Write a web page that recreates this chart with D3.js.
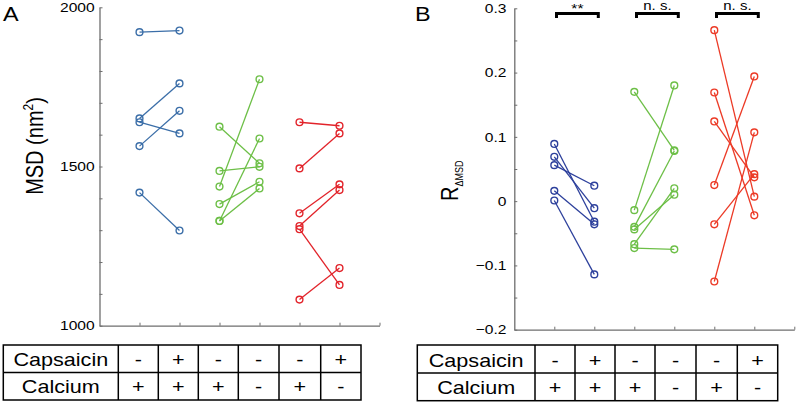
<!DOCTYPE html>
<html><head><meta charset="utf-8">
<script src="https://cdn.jsdelivr.net/npm/d3@7"></script>
<style>body{margin:0;background:#fff}svg{display:block}</style>
</head><body>
<svg id="c" width="797" height="402"></svg>
<script>
// ---------- data ----------
const categories = [1, 2, 3, 4, 5, 6];
const capsaicinRow = ["-", "+", "-", "-", "-", "+"];
const calciumRow = ["+", "+", "+", "-", "+", "-"];
const rowLabels = ["Capsaicin", "Calcium"];

// Panel A: MSD (nm^2), paired before/after
const msdBlueBefore  = [1922, 1651, 1639, 1564, 1418];
const msdBlueAfter   = [1927, 1761, 1604, 1675, 1299];
const msdGreenBefore = [1625, 1486, 1437, 1382, 1329, 1329];
const msdGreenAfter  = [1510, 1499, 1774, 1452, 1431, 1588];
const msdRedBefore   = [1639, 1494, 1353, 1313, 1303, 1082];
const msdRedAfter    = [1628, 1604, 1444, 1426, 1128, 1181];
const msdTicks = [1000, 1100, 1200, 1300, 1400, 1500, 1600, 1700, 1800, 1900, 2000];
const msdTickLabels = [1000, 1500, 2000];

// Panel B: R_ΔMSD
const rBlueBefore  = [0.089, 0.069, 0.056, 0.016, 0.001];
const rBlueAfter   = [-0.032, -0.011, 0.024, -0.036, -0.114];
const rGreenBefore = [0.170, -0.014, -0.040, -0.044, -0.067, -0.073];
const rGreenAfter  = [0.079, 0.180, 0.078, 0.010, 0.020, -0.075];
const rRedBefore   = [0.266, 0.169, 0.124, 0.025, -0.036, -0.125];
const rRedAfter    = [0.007, -0.022, 0.037, 0.194, 0.042, 0.107];
const rTicks = [-0.2, -0.15, -0.1, -0.05, 0, 0.05, 0.1, 0.15, 0.2, 0.25, 0.3];
const rTickLabels = ["-0.2", "-0.1", "0", "0.1", "0.2", "0.3"];
const sigLabels = ["**", "n. s.", "n. s."];

// ---------- drawing ----------
const svg = d3.select("#c");
const FONT = "'Liberation Sans', Arial, Helvetica, sans-serif";
const SX = 1.2; // horizontal stretch of the original picture
const AXC = "#6e6e6e";

function stext(g, x, y, str, size, anchor, extra) {
  const t = g.append("text")
    .attr("transform", `translate(${x},${y}) scale(${SX},1)` + (extra || ""))
    .attr("font-family", FONT).attr("font-size", size)
    .attr("text-anchor", anchor || "middle").attr("fill", "#000");
  if (str !== null) t.text(str);
  return t;
}

function drawPairs(g, x, y, before, after, xi, color) {
  const pairs = before.map((b, i) => ({ b, a: after[i] }));
  g.selectAll(null).data(pairs).join("line")
    .attr("x1", x(categories[xi])).attr("x2", x(categories[xi + 1]))
    .attr("y1", d => y(d.b)).attr("y2", d => y(d.a))
    .attr("stroke", color).attr("stroke-width", 1.3);
  g.selectAll(null).data(before).join("circle")
    .attr("cx", x(categories[xi])).attr("cy", d => y(d))
    .attr("r", 3.4).attr("fill", "none").attr("stroke", color).attr("stroke-width", 1.4);
  g.selectAll(null).data(after).join("circle")
    .attr("cx", x(categories[xi + 1])).attr("cy", d => y(d))
    .attr("r", 3.4).attr("fill", "none").attr("stroke", color).attr("stroke-width", 1.4);
}

function styleAxis(g) {
  g.select(".domain").attr("stroke", AXC).attr("stroke-width", 1.3);
  g.selectAll(".tick line").attr("stroke", AXC).attr("stroke-width", 1);
}

function drawTable(x0, cols, y0, y1, y2) {
  const g = svg.append("g");
  const xs = [x0].concat(cols);
  const right = xs[xs.length - 1];
  g.append("rect").attr("x", x0).attr("y", y0).attr("width", right - x0).attr("height", y2 - y0)
    .attr("fill", "none").attr("stroke", "#000").attr("stroke-width", 1.5);
  g.append("line").attr("x1", x0).attr("x2", right).attr("y1", y1).attr("y2", y1)
    .attr("stroke", "#000").attr("stroke-width", 1.5);
  cols.slice(0, -1).forEach(c => g.append("line").attr("x1", c).attr("x2", c)
    .attr("y1", y0).attr("y2", y2).attr("stroke", "#000").attr("stroke-width", 1.5));
  stext(g, (xs[0] + xs[1]) / 2, y1 - 6.5, rowLabels[0], 18);
  stext(g, (xs[0] + xs[1]) / 2, y2 - 6.8, rowLabels[1], 18);
  [capsaicinRow, calciumRow].forEach((row, r) => {
    row.forEach((s, i) => {
      const cx = (xs[i + 1] + xs[i + 2]) / 2;
      const cy = r === 0 ? y1 - 6.5 : y2 - 6.8;
      stext(g, cx, cy, s, 18);
    });
  });
}

// ===== Panel A =====
const xA = d3.scaleLinear().domain([0, 7]).range([99.5, 379.5]);
const yA = d3.scaleLinear().domain([1000, 2000]).range([325.7, 7.3]);
const gA = svg.append("g");
const ayA = gA.append("g").attr("transform", `translate(${xA(0)},0)`)
  .call(d3.axisLeft(yA).tickValues(msdTicks).tickSize(-3).tickSizeOuter(0).tickPadding(4)
    .tickFormat(d => msdTickLabels.includes(d) ? String(d) : ""));
styleAxis(ayA);
ayA.selectAll(".tick text").attr("font-family", FONT).attr("font-size", 13).attr("fill", "#000")
  .attr("transform", `scale(${SX},1)`);
const axA = gA.append("g").attr("transform", `translate(0,${yA(1000)})`)
  .call(d3.axisBottom(xA).tickValues(categories.concat([7])).tickSize(-3).tickSizeOuter(0).tickFormat(""));
styleAxis(axA);
drawPairs(gA, xA, yA, msdBlueBefore, msdBlueAfter, 0, "#3b6ea8");
drawPairs(gA, xA, yA, msdGreenBefore, msdGreenAfter, 2, "#6dbf47");
drawPairs(gA, xA, yA, msdRedBefore, msdRedAfter, 4, "#e2232a");
stext(gA, 3, 20.5, "A", 19.5, "start");
const labA = stext(gA, 43, 146, null, 20, "middle", " rotate(-90)");
labA.append("tspan").text("MSD (nm");
labA.append("tspan").text("2").attr("font-size", 12).attr("dy", -8);
labA.append("tspan").text(")").attr("dy", 8);

// ===== Panel B =====
const xB = d3.scaleLinear().domain([0, 7]).range([514.3, 794.3]);
const yB = d3.scaleLinear().domain([-0.2, 0.3]).range([329.7, 8.3]);
const gB = svg.append("g");
const ayB = gB.append("g").attr("transform", `translate(${xB(0)},0)`)
  .call(d3.axisLeft(yB).tickValues(rTicks).tickSize(-3).tickSizeOuter(0).tickPadding(6.5)
    .tickFormat(d => { const s = d3.format(".1~f")(d); const lab = s.replace("−", "-"); return rTickLabels.includes(lab) && Math.abs(d * 10 - Math.round(d * 10)) < 1e-9 ? lab.replace("-", "\u2212") : ""; }));
styleAxis(ayB);
ayB.selectAll(".tick text").attr("font-family", FONT).attr("font-size", 13).attr("fill", "#000")
  .attr("transform", `scale(${SX},1)`);
const axB = gB.append("g").attr("transform", `translate(0,${yB(-0.2)})`)
  .call(d3.axisBottom(xB).tickValues(categories.concat([7])).tickSize(-3).tickSizeOuter(0).tickFormat(""));
styleAxis(axB);
drawPairs(gB, xB, yB, rBlueBefore, rBlueAfter, 0, "#2d409c");
drawPairs(gB, xB, yB, rGreenBefore, rGreenAfter, 2, "#6dbf47");
drawPairs(gB, xB, yB, rRedBefore, rRedAfter, 4, "#ec3a26");
stext(gB, 415, 20.5, "B", 19.5, "start");
const labB = stext(gB, 458, 201, null, 20, "start", " rotate(-90)");
labB.append("tspan").text("R");
labB.append("tspan").text("\u0394MSD").attr("font-size", 9).attr("dy", 4);

// significance brackets
sigLabels.forEach((s, i) => {
  const x1 = xB(categories[2 * i]) + 2.2, x2 = xB(categories[2 * i + 1]) + 4;
  gB.append("path").attr("d", `M${x1},18 V13.5 H${x2} V18`)
    .attr("fill", "none").attr("stroke", "#000").attr("stroke-width", 3);
  stext(gB, (x1 + x2) / 2, s === "**" ? 13 : 9.5, s, s === "**" ? 13 : 12.5);
});

// ===== Tables =====
drawTable(3.3, [118.3, 158.3, 198.3, 238.3, 279, 320.7, 361], 345, 372.5, 400);
drawTable(417.3, [535, 575, 615, 655, 696, 737.3, 777.7], 345, 373, 400.7);
</script>
</body></html>
